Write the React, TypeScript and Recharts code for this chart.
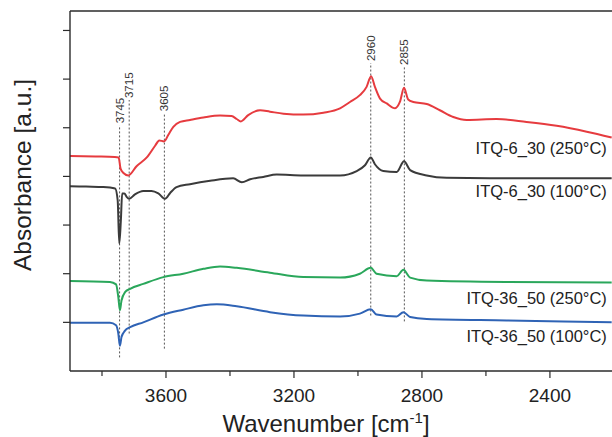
import React from 'react';
import { LineChart, Line, XAxis, YAxis, ReferenceLine, ReferenceDot } from 'recharts';

// Wavenumber grid (cm^-1) and absorbance (offset, a.u.) for each spectrum
const wnRed250 = [3900, 3820, 3760, 3748, 3742, 3733, 3718, 3692, 3660, 3634, 3621, 3606, 3593, 3577, 3556, 3525, 3483, 3431, 3395, 3379, 3366, 3343, 3306, 3275, 3233, 3171, 3108, 3056, 3025, 2994, 2973, 2959, 2947, 2931, 2910, 2884, 2869, 2856, 2843, 2827, 2785, 2744, 2702, 2660, 2567, 2473, 2379, 2285, 2207];
const absRed250 = [4.42, 4.41, 4.4, 4.39, 4.16, 4.07, 4.02, 4.21, 4.39, 4.63, 4.74, 4.72, 4.85, 5.02, 5.12, 5.16, 5.21, 5.25, 5.24, 5.18, 5.13, 5.26, 5.36, 5.33, 5.29, 5.27, 5.31, 5.4, 5.53, 5.67, 5.84, 6.06, 5.84, 5.6, 5.5, 5.4, 5.53, 5.82, 5.58, 5.53, 5.49, 5.36, 5.22, 5.16, 5.18, 5.12, 5.04, 4.92, 4.8];

const wnBlack100 = [3900, 3850, 3796, 3759, 3751, 3746, 3741, 3737, 3730, 3723, 3715, 3697, 3671, 3645, 3624, 3603, 3587, 3567, 3525, 3462, 3390, 3363, 3337, 3296, 3254, 3171, 3056, 3004, 2978, 2960, 2947, 2921, 2879, 2856, 2837, 2785, 2723, 2588, 2207];
const absBlack100 = [3.8, 3.79, 3.78, 3.75, 3.51, 2.62, 3.1, 3.65, 3.65, 3.58, 3.54, 3.63, 3.7, 3.7, 3.65, 3.54, 3.66, 3.78, 3.84, 3.91, 3.96, 3.88, 3.94, 3.99, 4.04, 4.02, 4.02, 4.11, 4.23, 4.39, 4.25, 4.11, 4.09, 4.31, 4.13, 4.02, 3.97, 3.96, 3.96];

const wnGreen250 = [3900, 3775, 3756, 3749, 3744, 3739, 3728, 3712, 3671, 3608, 3546, 3483, 3431, 3379, 3275, 3171, 3056, 2994, 2960, 2942, 2879, 2858, 2837, 2785, 2535, 2207];
const absGreen250 = [1.85, 1.83, 1.78, 1.52, 1.25, 1.45, 1.62, 1.69, 1.79, 1.93, 2.0, 2.1, 2.15, 2.12, 2.02, 1.93, 1.92, 2.0, 2.12, 2.0, 1.95, 2.08, 1.92, 1.86, 1.83, 1.82];

const wnBlue100 = [3900, 3775, 3756, 3749, 3744, 3739, 3728, 3712, 3671, 3608, 3546, 3483, 3441, 3379, 3275, 3171, 3056, 2994, 2960, 2942, 2879, 2858, 2837, 2785, 2535, 2207];
const absBlue100 = [0.99, 0.99, 0.94, 0.77, 0.52, 0.7, 0.83, 0.9, 1.0, 1.16, 1.26, 1.35, 1.37, 1.33, 1.21, 1.14, 1.12, 1.18, 1.27, 1.16, 1.12, 1.21, 1.11, 1.07, 1.04, 1.0];

// Marked band positions with the vertical extent of their guide lines
const peakWn = [3745, 3715, 3605, 2960, 2855];
const peakTop = [5.05, 5.57, 5.3, 6.33, 6.25];
const peakBottom = [0.28, 0.77, 0.46, 1.14, 1.02];

// Sample names and where each name sits on the absorbance scale
const sampleNames = ['ITQ-6_30 (250°C)', 'ITQ-6_30 (100°C)', 'ITQ-36_50 (250°C)', 'ITQ-36_50 (100°C)'];
const sampleLabelY = [4.59, 3.7, 1.5, 0.72];
const sampleLabelX = 2222;

const xTicks = [3800, 3600, 3400, 3200, 3000, 2800, 2600, 2400];
const yTicks = [1, 2, 3, 4, 5, 6, 7];
const xDomain: [number, number] = [2206, 3900];
const yDomain: [number, number] = [0, 7.4];

const toPoints = (wn: number[], abs: number[]) => wn.map((w, i) => ({ w, a: abs[i] }));

const series = [
  { name: sampleNames[0], color: '#e63b3f', data: toPoints(wnRed250, absRed250) },
  { name: sampleNames[1], color: '#3b3b3b', data: toPoints(wnBlack100, absBlack100) },
  { name: sampleNames[2], color: '#2aa75b', data: toPoints(wnGreen250, absGreen250) },
  { name: sampleNames[3], color: '#2f63b5', data: toPoints(wnBlue100, absBlue100) },
];

const FONT = '"Liberation Sans", Arial, Helvetica, sans-serif';
const AXIS = '#2b2b2b';

const XTick = (props: any) => {
  const { x, y, payload } = props;
  const major = payload.value % 400 === 0;
  return (
    <g>
      <line x1={x} x2={x} y1={y} y2={y + (major ? 7 : 5)} stroke={AXIS} strokeWidth={1.2} />
      {major && (
        <text x={x} y={y + 31} textAnchor="middle" fontSize={19} fill="#222" fontFamily={FONT}>
          {payload.value}
        </text>
      )}
    </g>
  );
};

// The absorbance axis carries tick marks only, no numbers
const NoLabel = () => <g />;

const XTitle = () => (
  <text x={326} y={432} textAnchor="middle" fontSize={24} fill="#222" fontFamily={FONT}>
    Wavenumber [cm
    <tspan dy={-9} fontSize={15}>-1</tspan>
    <tspan dy={9}>]</tspan>
  </text>
);

const YTitle = () => (
  <text
    x={31}
    y={175}
    transform="rotate(-90, 31, 175)"
    textAnchor="middle"
    fontSize={24.5}
    fill="#222"
    fontFamily={FONT}
  >
    Absorbance [a.u.]
  </text>
);

const peakLabel = (text: string) => (props: any) => {
  const vb = props.viewBox || {};
  const x = vb.x;
  const y = vb.y - 2;
  return (
    <text
      x={x}
      y={y}
      transform={`rotate(-90, ${x}, ${y})`}
      dy="0.35em"
      textAnchor="start"
      fontSize={11.5}
      fill="#333"
      fontFamily={FONT}
    >
      {text}
    </text>
  );
};

const sampleLabel = (text: string) => (props: any) => (
  <text
    x={props.cx}
    y={props.cy}
    dy="0.36em"
    textAnchor="end"
    fontSize={16.5}
    fill="#222"
    fontFamily={FONT}
  >
    {text}
  </text>
);

export default function App() {
  return (
    <div style={{ position: 'absolute', left: 0, top: 0, background: '#fff' }}>
      <LineChart width={612} height={437} margin={{ top: 11, right: 0, bottom: 0, left: 0 }}>
        <XAxis
          type="number"
          dataKey="w"
          domain={xDomain}
          reversed
          allowDataOverflow
          ticks={xTicks}
          interval={0}
          tickSize={0}
          tickMargin={0}
          tickLine={false}
          tick={<XTick />}
          height={66}
          axisLine={{ stroke: AXIS, strokeWidth: 1.4 }}
          label={<XTitle />}
        />
        <YAxis
          type="number"
          domain={yDomain}
          allowDataOverflow
          ticks={yTicks}
          interval={0}
          tick={NoLabel}
          tickSize={7}
          tickLine={{ stroke: AXIS, strokeWidth: 1.2 }}
          width={70}
          axisLine={{ stroke: AXIS, strokeWidth: 1.4 }}
          label={<YTitle />}
        />
        <ReferenceLine y={yDomain[1]} stroke={AXIS} strokeWidth={1.4} />
        {peakWn.map((w, i) => (
          <ReferenceLine
            key={`peak-${w}`}
            segment={[
              { x: w, y: peakBottom[i] },
              { x: w, y: peakTop[i] },
            ]}
            stroke="#555"
            strokeWidth={1}
            strokeDasharray="2 2"
            label={peakLabel(String(w))}
          />
        ))}
        {series.map((s) => (
          <Line
            key={s.name}
            data={s.data}
            dataKey="a"
            type="monotone"
            stroke={s.color}
            strokeWidth={2}
            dot={false}
            isAnimationActive={false}
          />
        ))}
        {sampleNames.map((n, i) => (
          <ReferenceDot
            key={`name-${n}`}
            x={sampleLabelX}
            y={sampleLabelY[i]}
            r={0}
            shape={sampleLabel(n)}
          />
        ))}
      </LineChart>
    </div>
  );
}
